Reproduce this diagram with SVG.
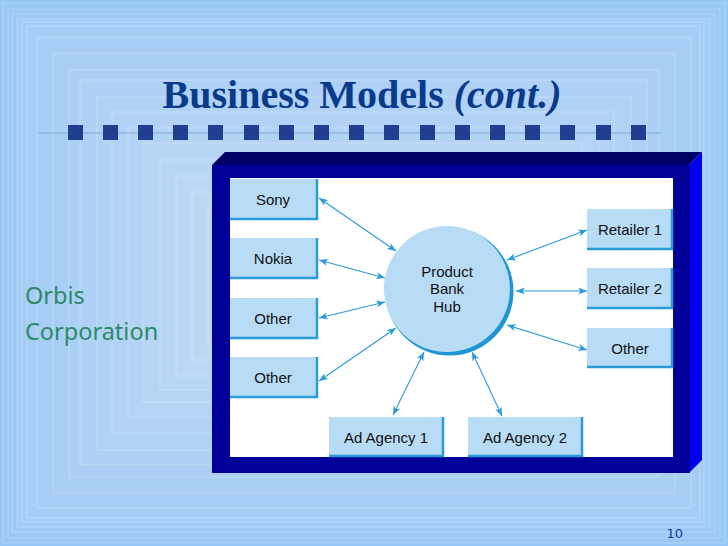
<svg xmlns="http://www.w3.org/2000/svg" width="728" height="546" viewBox="0 0 728 546">
<defs>
<style>
.bgr{fill:#ffffff;fill-opacity:0.03;stroke:#ffffff;stroke-opacity:0.25;stroke-width:1}
.node rect{fill:#b9dcf6}
.node path{fill:none;stroke:#2a9ad8;stroke-width:2.5}
.lbl{font-family:"Liberation Sans",Arial,sans-serif;font-size:15px;fill:#111111;text-anchor:middle}
.con{stroke:#2a9ad8;stroke-width:1.1;fill:none;marker-start:url(#ah);marker-end:url(#ah)}
.sq{fill:#213f91}
</style>
<marker id="ah" viewBox="0 0 10 8" refX="10" refY="4" markerWidth="9" markerHeight="7" markerUnits="userSpaceOnUse" orient="auto-start-reverse">
<path d="M0,0 L10,4 L0,8 L2.5,4 Z" fill="#2a9ad8"/>
</marker>
</defs>
<g id="background">
<rect x="0" y="0" width="728" height="546" fill="#96c7f5"/>
<rect class="bgr" x="3" y="3" width="722" height="540"/>
<rect class="bgr" x="8" y="9" width="712" height="529"/>
<rect class="bgr" x="12" y="14" width="703" height="518"/>
<rect class="bgr" x="17" y="19" width="693" height="508"/>
<rect class="bgr" x="22" y="22" width="682" height="500"/>
<rect class="bgr" x="27" y="26" width="673" height="492"/>
<rect class="bgr" x="37" y="37" width="654" height="471"/>
<rect class="bgr" x="53" y="53" width="622" height="440"/>
<rect class="bgr" x="69" y="70" width="590" height="407"/>
<rect class="bgr" x="80" y="80" width="567" height="385"/>
<rect class="bgr" x="97" y="97" width="534" height="353"/>
<rect class="bgr" x="112" y="112" width="502" height="321"/>
<rect class="bgr" x="128" y="128" width="471" height="289"/>
<rect class="bgr" x="143" y="143" width="439" height="259"/>
<rect class="bgr" x="160" y="160" width="406" height="230"/>
<rect class="bgr" x="176" y="176" width="374" height="200"/>
<rect class="bgr" x="192" y="192" width="342" height="168"/>
<rect class="bgr" x="208" y="208" width="310" height="136"/>
</g>
<g id="title">
<text x="362" y="108" text-anchor="middle" font-family="'Liberation Serif','Times New Roman',serif" font-size="40" font-weight="bold" fill="#0a3a8c">Business Models <tspan font-style="italic">(cont.)</tspan></text>
</g>
<g id="divider">
<line x1="38" y1="133" x2="661" y2="133" stroke="#7fa9d9" stroke-width="1"/>
<rect class="sq" x="68" y="125" width="15" height="15"/>
<rect class="sq" x="103" y="125" width="15" height="15"/>
<rect class="sq" x="138" y="125" width="15" height="15"/>
<rect class="sq" x="173" y="125" width="15" height="15"/>
<rect class="sq" x="208" y="125" width="15" height="15"/>
<rect class="sq" x="244" y="125" width="15" height="15"/>
<rect class="sq" x="279" y="125" width="15" height="15"/>
<rect class="sq" x="314" y="125" width="15" height="15"/>
<rect class="sq" x="349" y="125" width="15" height="15"/>
<rect class="sq" x="384" y="125" width="15" height="15"/>
<rect class="sq" x="420" y="125" width="15" height="15"/>
<rect class="sq" x="455" y="125" width="15" height="15"/>
<rect class="sq" x="490" y="125" width="15" height="15"/>
<rect class="sq" x="525" y="125" width="15" height="15"/>
<rect class="sq" x="560" y="125" width="15" height="15"/>
<rect class="sq" x="596" y="125" width="15" height="15"/>
<rect class="sq" x="631" y="125" width="15" height="15"/>
</g>
<g id="orbis">
<text font-family="'Noto Sans','DejaVu Sans',sans-serif" font-size="23.5" fill="#2e8a68"><tspan x="25" y="304">Orbis</tspan><tspan x="25" y="340">Corporation</tspan></text>
</g>
<g id="frame">
<polygon points="212,165 225,152 702,152 689,165" fill="#000066"/>
<polygon points="689,165 702,152 702,460 689,473" fill="#0000f0"/>
<rect x="212" y="165" width="478" height="308" fill="#000099"/>
<rect x="230" y="178" width="443" height="279" fill="#ffffff"/>
</g>
<g id="hub">
<circle cx="449.5" cy="291.5" r="64" fill="#1e96d6"/>
<circle cx="447" cy="289" r="63" fill="#b9dcf6"/>
<text class="lbl" font-size="14"><tspan x="447" y="277">Product</tspan><tspan x="447" y="294">Bank</tspan><tspan x="447" y="312">Hub</tspan></text>
</g>
<g id="sony" class="node"><rect x="230" y="179" width="87" height="40"/><path d="M230,219 H317 V179"/><text class="lbl" x="273" y="205">Sony</text></g>
<g id="nokia" class="node"><rect x="230" y="238" width="87" height="40"/><path d="M230,278 H317 V238"/><text class="lbl" x="273" y="264">Nokia</text></g>
<g id="other1" class="node"><rect x="230" y="298" width="87" height="40"/><path d="M230,338 H317 V298"/><text class="lbl" x="273" y="324">Other</text></g>
<g id="other2" class="node"><rect x="230" y="357" width="87" height="40"/><path d="M230,397 H317 V357"/><text class="lbl" x="273" y="383">Other</text></g>
<g id="retailer1" class="node"><rect x="587" y="209" width="86" height="40"/><path d="M587,249 H672 V209"/><text class="lbl" x="630" y="235">Retailer 1</text></g>
<g id="retailer2" class="node"><rect x="587" y="268" width="86" height="40"/><path d="M587,308 H672 V268"/><text class="lbl" x="630" y="294">Retailer 2</text></g>
<g id="other3" class="node"><rect x="587" y="328" width="86" height="39"/><path d="M587,367 H672 V328"/><text class="lbl" x="630" y="354">Other</text></g>
<g id="adagency1" class="node"><rect x="329" y="417" width="115" height="40"/><path d="M329,456 H443 V417"/><text class="lbl" x="386" y="443">Ad Agency 1</text></g>
<g id="adagency2" class="node"><rect x="468" y="417" width="115" height="40"/><path d="M468,456 H582 V417"/><text class="lbl" x="525" y="443">Ad Agency 2</text></g>
<g id="connectors">
<line class="con" x1="319" y1="198" x2="396" y2="251"/>
<line class="con" x1="319" y1="260" x2="385" y2="278"/>
<line class="con" x1="319" y1="318" x2="385" y2="302"/>
<line class="con" x1="319" y1="381" x2="396" y2="328"/>
<line class="con" x1="393" y1="415" x2="424" y2="352"/>
<line class="con" x1="502" y1="416" x2="472" y2="352"/>
<line class="con" x1="587" y1="230" x2="507" y2="260"/>
<line class="con" x1="587" y1="291" x2="516" y2="291"/>
<line class="con" x1="587" y1="350" x2="507" y2="325"/>
</g>
<g id="pagenum">
<text x="683" y="538" text-anchor="end" font-family="'DejaVu Sans',Verdana,sans-serif" font-size="13" fill="#1f3a8f">10</text>
</g>
</svg>
